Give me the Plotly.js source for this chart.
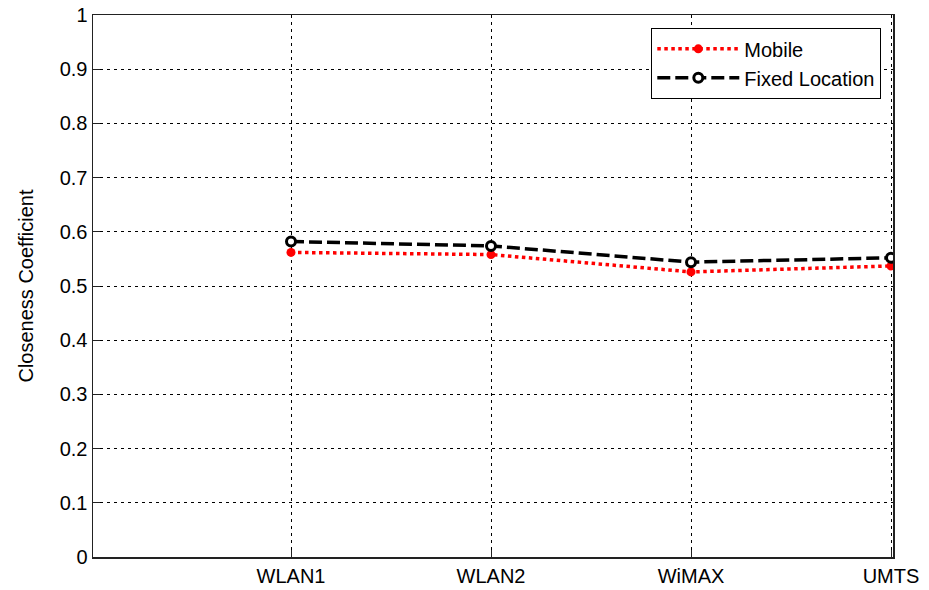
<!DOCTYPE html>
<html>
<head>
<meta charset="utf-8">
<script src="https://cdn.plot.ly/plotly-3.0.1.min.js"></script>
<style>html,body{margin:0;padding:0;background:#fff;}#chart{width:929px;height:590px;}</style>
</head>
<body>
<div id="chart"></div>
<script>
var categories = ["WLAN1", "WLAN2", "WiMAX", "UMTS"];
var categoryPositions = [1, 2, 3, 4];
var mobileValues = [0.562, 0.558, 0.526, 0.537];
var fixedValues = [0.582, 0.574, 0.544, 0.552];
var yTickValues = [0, 0.1, 0.2, 0.3, 0.4, 0.5, 0.6, 0.7, 0.8, 0.9, 1];
var yTickLabels = ["0", "0.1", "0.2", "0.3", "0.4", "0.5", "0.6", "0.7", "0.8", "0.9", "1"];

var traces = [
  {
    x: categoryPositions, y: mobileValues, name: "Mobile", mode: "lines+markers",
    line: {color: "#ff0000", width: 3.5, dash: "3.5px,3.5px"},
    marker: {color: "#ff0000", size: 9, symbol: "circle"}
  },
  {
    x: categoryPositions, y: fixedValues, name: "Fixed Location", mode: "lines+markers",
    line: {color: "#000000", width: 3.5, dash: "13px,5px"},
    marker: {color: "#ffffff", size: 9, symbol: "circle", line: {color: "#000000", width: 3}}
  }
];

var fontFamily = "Liberation Sans, Arial, sans-serif";
var axisFont = {family: fontFamily, size: 20, color: "#000"};
var layout = {
  width: 929, height: 590,
  margin: {l: 93, r: 36, t: 15, b: 33},
  paper_bgcolor: "#fff", plot_bgcolor: "#fff",
  showlegend: true,
  legend: {
    x: 0.985, y: 0.976, xanchor: "right", yanchor: "top",
    bordercolor: "#000", borderwidth: 1.3, bgcolor: "#fff",
    font: {family: fontFamily, size: 20, color: "#000"},
    tracegroupgap: 0, itemwidth: 82
  },
  xaxis: {
    range: [0.01, 4.01],
    tickvals: categoryPositions, ticktext: categories,
    tickfont: axisFont,
    showline: true, linecolor: "#222", linewidth: 1.5, mirror: true,
    showgrid: true, gridcolor: "#000", griddash: "3px,4px", gridwidth: 1,
    ticks: "inside", ticklen: 7, tickcolor: "#222",
    zeroline: false
  },
  yaxis: {
    range: [0, 1],
    tickvals: yTickValues, ticktext: yTickLabels,
    tickfont: axisFont,
    showline: true, linecolor: "#222", linewidth: 1.5, mirror: true,
    showgrid: true, gridcolor: "#000", griddash: "3px,4px", gridwidth: 1,
    ticks: "inside", ticklen: 7, tickcolor: "#222",
    zeroline: false,
    title: {text: "Closeness Coefficient", font: {family: fontFamily, size: 20, color: "#000"}, standoff: 20}
  }
};

Plotly.newPlot("chart", traces, layout, {displayModeBar: false, staticPlot: true});
</script>
</body>
</html>
